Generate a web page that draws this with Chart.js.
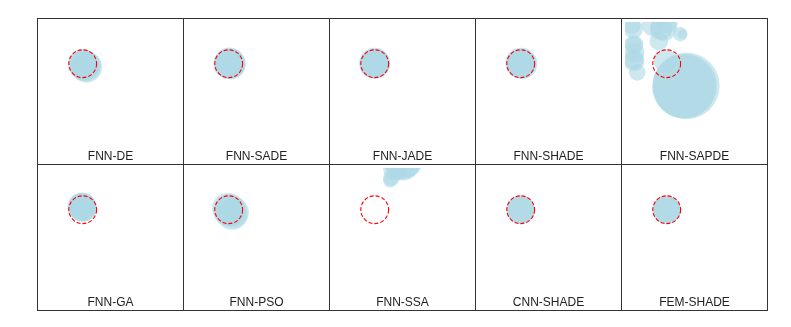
<!DOCTYPE html>
<html lang="en">
<head>
<meta charset="UTF-8">
<title>Recovered circles per method</title>
<script src="https://cdn.jsdelivr.net/npm/chart.js"></script>
<style>
    body {
        margin: 0;
        background: #fff;
        width: 791px;
        height: 327px;
        overflow: hidden;
        font-family: "Liberation Sans", Arial, sans-serif;
    }
    .grid {
        position: absolute;
        left: 37px;
        top: 18px;
        width: 731px;
        height: 293px;
        box-sizing: border-box;
        padding: 1px;
        background: #333;
        display: grid;
        grid-template-columns: repeat(5, 145px);
        grid-template-rows: repeat(2, 145px);
        gap: 1px;
    }
    .cell {
        position: relative;
        background: #fff;
    }
    .cell canvas {
        display: block;
    }
    .label {
        position: absolute;
        left: 0;
        right: 0;
        top: 130px;
        text-align: center;
        font-size: 12px;
        line-height: 14px;
        color: #222;
    }
</style>
</head>
<body>

<div class="grid" id="grid"></div>

<script>
    // panel names, row by row
    const methods = ['FNN-DE', 'FNN-SADE', 'FNN-JADE', 'FNN-SHADE', 'FNN-SAPDE',
                     'FNN-GA', 'FNN-PSO', 'FNN-SSA', 'CNN-SHADE', 'FEM-SHADE'];

    // true circle: [x, y, radius] (unit square, y downwards)
    const target = [0.3, 0.3, 0.1];

    // recovered circles for each method: [x, y, radius]
    const fnnDE = [[0.30, 0.30, 0.105], [0.31, 0.31, 0.11], [0.32, 0.32, 0.11],
                   [0.33, 0.325, 0.11], [0.315, 0.31, 0.108]];
    const fnnSADE = [[0.30, 0.30, 0.11], [0.31, 0.30, 0.11], [0.315, 0.305, 0.108],
                     [0.305, 0.295, 0.112]];
    const fnnJADE = [[0.30, 0.30, 0.108], [0.295, 0.30, 0.105], [0.305, 0.30, 0.107],
                     [0.30, 0.295, 0.11]];
    const fnnSHADE = [[0.30, 0.295, 0.11], [0.305, 0.30, 0.108], [0.30, 0.30, 0.105],
                      [0.31, 0.30, 0.11]];
    const fnnSAPDE = [[0.425, 0.466, 0.229], [0.441, 0.459, 0.24], [0.43, 0.46, 0.232],
                      [0.052, 0.029, 0.06], [0.064, 0.16, 0.067], [0.064, 0.279, 0.076],
                      [0.088, 0.362, 0.06], [0.279, 0.04, 0.095], [0.243, 0.136, 0.067],
                      [0.398, 0.088, 0.052], [0.41, 0.088, 0.035], [0.29, 0.279, 0.083],
                      [0.06, 0.05, 0.07], [0.07, 0.22, 0.07], [0.20, 0.02, 0.08],
                      [0.30, 0.0, 0.08], [0.064, 0.17, 0.065], [0.064, 0.27, 0.07],
                      [0.26, 0.05, 0.08]];
    const fnnGA = [[0.295, 0.28, 0.1], [0.30, 0.275, 0.098], [0.30, 0.285, 0.1],
                   [0.29, 0.28, 0.1], [0.305, 0.29, 0.097]];
    const fnnPSO = [[0.29, 0.29, 0.11], [0.325, 0.335, 0.11], [0.31, 0.30, 0.115],
                    [0.335, 0.32, 0.11], [0.30, 0.31, 0.11]];
    const fnnSSA = [[0.50, -0.04, 0.13], [0.52, -0.06, 0.13], [0.45, 0.0, 0.09],
                    [0.41, 0.09, 0.05], [0.42, 0.07, 0.06], [0.50, -0.05, 0.13]];
    const cnnSHADE = [[0.30, 0.30, 0.1], [0.30, 0.30, 0.102], [0.301, 0.299, 0.1]];
    const femSHADE = [[0.30, 0.30, 0.1], [0.30, 0.30, 0.1], [0.30, 0.30, 0.1]];

    const results = [fnnDE, fnnSADE, fnnJADE, fnnSHADE, fnnSAPDE,
                     fnnGA, fnnPSO, fnnSSA, cnnSHADE, femSHADE];

    const toPoints = list => list.map(([x, y, size]) => ({x, y, size}));

    // radius is in data units, turn it into pixels with the x scale
    function pxRadius(ctx) {
        const s = ctx.chart.scales.x;
        const r = Math.abs(s.getPixelForValue(ctx.raw.size) - s.getPixelForValue(0));
        return r || 0;
    }

    // dashed outline for the true circle (dataset 0)
    const dashTarget = {
        id: 'dashTarget',
        beforeDatasetDraw(chart, args) {
            if (args.index === 0) chart.ctx.setLineDash([4, 2]);
        },
        afterDatasetDraw(chart, args) {
            if (args.index === 0) chart.ctx.setLineDash([]);
        }
    };

    const grid = document.getElementById('grid');

    methods.forEach((name, i) => {
        const cell = document.createElement('div');
        cell.className = 'cell';
        const canvas = document.createElement('canvas');
        canvas.width = 145;
        canvas.height = 145;
        const label = document.createElement('div');
        label.className = 'label';
        label.textContent = name;
        cell.appendChild(canvas);
        cell.appendChild(label);
        grid.appendChild(cell);

        new Chart(canvas.getContext('2d'), {
            type: 'scatter',
            data: {
                datasets: [{
                    label: 'True',
                    data: toPoints([target]),
                    pointRadius: pxRadius,
                    pointHoverRadius: pxRadius,
                    pointBackgroundColor: 'rgba(0,0,0,0)',
                    pointBorderColor: '#ff0000',
                    pointBorderWidth: 1.1,
                    clip: 0
                }, {
                    label: name,
                    data: toPoints(results[i]),
                    pointRadius: pxRadius,
                    pointHoverRadius: pxRadius,
                    pointBackgroundColor: 'rgba(173, 216, 230, 0.6)',
                    pointBorderWidth: 0,
                    clip: 0
                }]
            },
            options: {
                responsive: false,
                animation: false,
                events: [],
                layout: { padding: 3, autoPadding: false },
                plugins: {
                    legend: { display: false },
                    tooltip: { enabled: false }
                },
                scales: {
                    x: { type: 'linear', min: 0, max: 1, display: false },
                    y: { type: 'linear', min: 0, max: 1, reverse: true, display: false }
                }
            },
            plugins: [dashTarget]
        });
    });
</script>

</body>
</html>
